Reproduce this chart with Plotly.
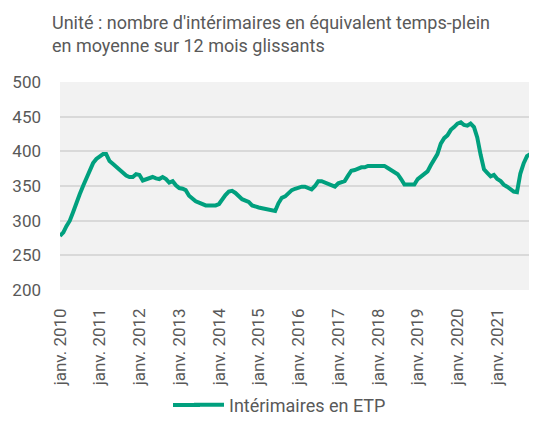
import plotly.graph_objects as go
import pandas as pd

dates = pd.date_range("2010-01-01", periods=144, freq="MS").strftime("%Y-%m-%d").tolist()

values = [
    278, 283, 292, 300, 312, 327, 338, 350, 362, 374, 383, 389,
    393, 396, 396, 386, 382, 378, 374, 369, 365, 363, 363, 367,
    366, 358, 360, 362, 363, 361, 360, 363, 360, 355, 357, 351,
    347, 346, 344, 336, 332, 328, 326, 324, 322, 322, 322, 322,
    324, 332, 337, 342, 343, 340, 335, 331, 329, 327, 322, 320,
    319, 318, 317, 317, 315, 314, 325, 333, 335, 340, 344, 346,
    348, 349, 349, 347, 345, 350, 357, 357, 355, 354, 351, 349,
    354, 355, 357, 365, 372, 373, 375, 377, 377, 379, 379, 379,
    379, 379, 379, 376, 373, 370, 367, 360, 352, 352, 352, 352,
    360, 364, 368, 371, 380, 388, 396, 411, 419, 423, 431, 435,
    440, 442, 438, 437, 440, 435, 420, 395, 374, 369, 364, 366,
    360, 357, 352, 349, 346, 342, 341, 368, 383, 393, 396, 397,
]

tick_dates = [f"{y}-01-01" for y in range(2010, 2022)]
tick_labels = [f"janv. {y}" for y in range(2010, 2022)]
y_ticks = [200, 250, 300, 350, 400, 450, 500]

series_name = "Intérimaires en ETP"
title_text = "Unité : nombre d'intérimaires en équivalent temps-plein<br>en moyenne sur 12 mois glissants"

# the page body has an 8px default margin, so the figure is sized to fit the window
W, H = 529, 424
L, R, T, B = 52, 0, 74, 142
PW = W - L - R
PH = H - T - B

GREEN = "#00a07e"
GREY = "#595959"

fig = go.Figure()
fig.add_trace(go.Scatter(
    x=dates, y=values, mode="lines", name=series_name,
    line=dict(color=GREEN, width=4),
))

# extend the legend line sample to the left (decoration only)
leg_y_px = 397  # figure pixels from top
fig.add_shape(
    type="line", xref="paper", yref="paper",
    x0=(165 - L) / PW, x1=(192 - L) / PW,
    y0=(H - B - leg_y_px) / PH, y1=(H - B - leg_y_px) / PH,
    line=dict(color=GREEN, width=4),
)

fig.update_layout(
    width=W, height=H,
    margin=dict(l=L, r=R, t=T, b=B, autoexpand=False),
    paper_bgcolor="white",
    plot_bgcolor="#f2f2f2",
    font=dict(family="Roboto", color=GREY, size=16),
    title=dict(
        text=title_text, x=44 / W, xanchor="left",
        yref="container", y=1 - 21 / H, yanchor="top",
        font=dict(size=18, color=GREY),
    ),
    showlegend=True,
    legend=dict(
        orientation="h", xref="container", yref="container",
        x=181 / W, xanchor="left", y=1 - leg_y_px / H, yanchor="middle",
        font=dict(size=18, color=GREY),
        bgcolor="rgba(0,0,0,0)",
    ),
    xaxis=dict(
        type="date", range=["2010-01-01", "2022-01-01"],
        tickvals=tick_dates, ticktext=tick_labels, tickangle=-90,
        showgrid=False, zeroline=False, showline=False,
        tickfont=dict(size=17, color=GREY),
        ticklabelstandoff=14, automargin=False,
    ),
    yaxis=dict(
        range=[200, 500], tickvals=y_ticks,
        showgrid=True, gridcolor="#d9d9d9", gridwidth=2,
        zeroline=False, showline=False,
        tickfont=dict(size=17, color=GREY),
        ticklabelstandoff=18, automargin=False,
    ),
)

fig.write_html("out.html")
